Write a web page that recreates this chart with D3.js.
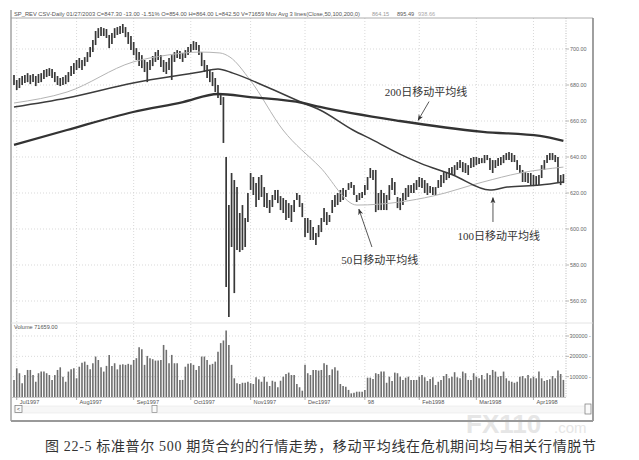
<!DOCTYPE html>
<html><head><meta charset="utf-8">
<script src="https://cdn.jsdelivr.net/npm/d3@7/dist/d3.min.js"></script>
<style>body{margin:0;background:#fff}svg{display:block}</style>
</head><body>
<svg id="c" width="639" height="460"></svg>
<script>
// ---- data ----
const highs = [685.5,682.8,683.9,685,685.5,686.6,685.5,686.1,685,686.1,
686.6,688.3,688.9,689.4,688.9,687.2,685,683.9,684.4,685.5,
687.2,690.5,692.2,693.9,695,693.9,695.5,698.3,701.1,705,
710,711.6,712.2,711.6,711.1,707.8,708.9,711.6,712.2,712.8,
713.9,712.2,709.4,707.2,703.9,700.5,698.3,696.6,693.9,692.8,
693.9,696.1,698.3,699.4,696.6,693.9,692.8,695,696.6,698.3,
699.4,698.9,697.8,699.4,701.1,702.8,704.4,703.9,702.2,698.3,
693.9,691.1,688.3,687.2,683.9,680,674.4,673.3,640,613.3,
631.1,627.2,623.3,608.9,613.3,606.1,620,631.1,628.9,625.5,
628.9,630,623.3,620,616.1,618.9,621.7,621.7,618.3,617.2,
616.1,614.4,613.3,616.1,620,618.9,614.4,606.1,606.1,605,
601.1,597.8,602.2,606.1,611.6,609.4,607.8,616.1,618.9,620,
621.7,622.8,621.7,625.5,626.1,624.4,618.9,620,620.5,624.4,
628.9,633.9,632.8,632.8,620,621.7,620,618.9,624.4,628.3,
626.1,617.8,617.2,620,622.8,624.4,624.4,625.5,627.2,628.9,
628.3,627.2,625.5,623.9,623.3,623.3,627.2,630,631.6,631.6,
633.9,634.4,635.5,637.2,638.3,637.2,636.6,635.5,639.4,640,
640,639.4,639.4,641.1,641.1,639.4,638.3,638.3,639.4,640,
641.1,642.2,642.8,642.2,641.1,638.3,635.5,632.8,631.6,631.1,
631.1,630,629.4,630,635.5,638.3,641.1,642.2,642.2,641.1,
640,630,630.5];
const lows = [680,677.2,678.3,680,681.1,681.6,680.5,681.6,679.4,681.1,
681.6,683.3,684.4,685,683.9,681.6,680,679.4,680,680.5,
681.6,685,686.1,688.3,689.4,688.3,690.5,692.8,695.5,698.3,
702.2,706.1,707.2,707.2,706.1,700.5,702.8,706.1,707.8,708.3,
708.9,706.6,702.8,699.4,696.6,693.9,690.5,689.4,687.2,681.6,
688.3,690.5,692.8,693.9,690,687.2,686.1,688.3,682.8,692.8,
695,694.4,692.8,695,696.6,698.3,699.4,699.4,696.6,690.5,
687.2,683.9,681.6,679.4,676.1,672.8,668.9,647.8,567.8,551.1,
590,564.4,588.3,587.2,588.3,590,603.9,621.7,618.9,612.2,
616.1,617.8,612.2,611.6,608.9,612.2,616.1,614.4,610.5,608.9,
605,606.1,603.9,609.4,616.1,612.2,606.6,595.5,597.8,593.9,
593.9,591.1,595.5,598.3,603.9,602.2,603.9,608.9,612.2,613.3,
615,616.1,617.8,621.7,622.8,618.9,615,616.1,617.2,618.9,
621.7,628.3,627.2,609.4,610.5,610.5,610.5,610.5,616.1,621.7,
618.9,611.6,610.5,613.3,616.1,617.8,620,620,621.7,623.3,
622.8,620,618.9,620,618.9,618.9,622.8,623.3,625.5,627.2,
628.3,630,630,632.8,633.9,631.6,631.1,630,633.9,634.4,
635.5,636.1,636.6,636.6,638.3,632.8,631.1,633.9,635,635.5,
636.6,638.3,638.3,637.2,637.2,632.8,631.1,626.1,626.1,625.5,
624.4,624.4,624.4,624.4,628.3,632.8,636.6,638.3,638.3,637.2,
625.5,624.4,625.5];
const volumesK = [84,141,117,68,108,133,133,108,75,117,
125,125,117,108,84,108,133,146,100,75,
125,136,141,92,149,169,174,158,136,166,
199,182,146,125,153,207,153,166,136,158,
161,158,163,158,182,191,245,235,158,202,
191,186,179,179,182,256,232,166,207,166,
166,84,84,149,163,166,158,133,153,199,
199,182,158,163,174,223,265,278,327,256,
158,92,68,64,70,70,75,68,64,97,
87,75,100,75,54,80,75,48,80,100,
113,120,108,108,64,48,31,158,117,108,
133,133,130,133,166,158,108,136,146,130,
64,54,51,35,18,21,26,26,26,35,
95,95,89,117,113,125,125,70,100,79,
120,117,100,84,95,100,84,84,84,100,
108,97,79,89,97,59,75,84,103,113,
92,100,122,97,92,125,117,84,84,117,
100,92,108,87,117,108,133,125,100,103,
125,92,80,75,70,75,100,103,92,108,
92,100,92,125,92,79,84,87,103,92,
130,113,84];
// moving averages: [bar index, value]
const ma50 = [[0,670],[19.5,676.1],[43.8,692.8],[56.3,696.6],[68.4,698.3],[75.7,697.8],[79.4,695.5],[86.8,682.8],[98.9,655],[112.5,634.4],[126.1,613.3],[141.9,615],[154,618.3],[172.4,626.1],[186,631.1],[202,634.4]];
const ma100 = [[0,667.8],[19.5,672.8],[43.8,681.1],[68.4,687.2],[75,688.9],[80.5,686.6],[93,678.9],[106.3,670],[112.5,666.1],[124.6,655],[132,649.4],[141.9,641.6],[149.3,636.6],[161.4,630],[175,621.7],[181.3,623.3],[193.4,624.4],[202,626.1]];
const ma200 = [[0,646.7],[19.5,655],[43.8,665],[62.1,670.5],[75,675],[86.8,673.3],[106.3,670],[112.5,667.8],[141.9,660],[172.4,654],[193.4,651.7],[202,649]];
const priceTicks = [560,580,600,620,640,660,680,700];
const volTicks = [100000,200000,300000];
const monthLabels = ["Jul1997","Aug1997","Sep1997","Oct1997","Nov1997","Dec1997","98","Feb1998","Mar1998","Apr1998"];
const monthIdx = [1,23,44,65,87,107,129,149,170,191];
const headerText = "SP_REV CSV-Daily   01/27/2003   C=847.30  -13.00  -1.51%   O=854.00   H=864.00   L=842.50   V=71659   Mov Avg 3 lines(Close,50,100,200,0)";
const headerMA = ["864.15","895.49","938.66"];
const caption = "图 22-5   标准普尔 500 期货合约的行情走势，移动平均线在危机期间均与相关行情脱节";
const notes = [
  {text:"200日移动平均线", tx:151.5, tp:676.2, from:[152.6,670.8], to:[148.6,660.4]},
  {text:"50日移动平均线", tx:134.5, tp:582.6, from:[131.6,590], to:[126.8,611]},
  {text:"100日移动平均线", tx:178.2, tp:596, from:[176.1,603.9], to:[176.1,617.4]}
];

// ---- drawing ----
const svg = d3.select("#c");
const x = d3.scaleLinear().domain([0,202]).range([14,563.4]);
const y = d3.scaleLinear().domain([560,700]).range([301,49]);
const yv = d3.scaleLinear().domain([0,300000]).range([397,336]);
const L = 11, R = 593, T = 18, PB = 323, VB = 397, AX = 566;
const sans = "'Liberation Sans', Arial, sans-serif";

svg.append("rect").attr("width",639).attr("height",460).attr("fill","#fff");
const defs = svg.append("defs");
defs.append("marker").attr("id","ah").attr("viewBox","0 0 10 10").attr("refX",9).attr("refY",5)
  .attr("markerWidth",7).attr("markerHeight",7).attr("orient","auto-start-reverse")
  .append("path").attr("d","M0,1 L10,5 L0,9 L3,5 Z").attr("fill","#333");
defs.append("clipPath").attr("id","pc").append("rect").attr("x",L).attr("y",T).attr("width",AX-L).attr("height",PB-T);

// watermark (behind the chart texts)
svg.append("text").attr("x",466).attr("y",433).attr("font-family",sans).attr("font-weight","bold")
  .attr("font-size",26).attr("fill","#e6e6e6").text("FX110");
svg.append("text").attr("x",554).attr("y",433).attr("font-family",sans)
  .attr("font-size",15).attr("fill","#e6e6e6").text(".com");

// grid
const grid = svg.append("g").attr("stroke","#cfcfcf").attr("stroke-dasharray","1,2").attr("stroke-width",0.8);
priceTicks.forEach(p=>grid.append("line").attr("x1",L+2).attr("x2",AX).attr("y1",y(p)).attr("y2",y(p)));
volTicks.forEach(v=>grid.append("line").attr("x1",L+2).attr("x2",AX).attr("y1",yv(v)).attr("y2",yv(v)));
monthIdx.forEach(i=>grid.append("line").attr("x1",x(i)).attr("x2",x(i)).attr("y1",T).attr("y2",VB));

// frame
const fr = svg.append("g").attr("fill","none");
fr.append("line").attr("x1",L).attr("x2",L).attr("y1",10).attr("y2",421).attr("stroke","#777").attr("stroke-width",1);
fr.append("line").attr("x1",L).attr("x2",R).attr("y1",T).attr("y2",T).attr("stroke","#999").attr("stroke-width",0.8);
fr.append("line").attr("x1",R).attr("x2",R).attr("y1",T).attr("y2",421).attr("stroke","#888").attr("stroke-width",1.6);
fr.append("line").attr("x1",L).attr("x2",R).attr("y1",421).attr("y2",421).attr("stroke","#999").attr("stroke-width",2);
fr.append("line").attr("x1",L).attr("x2",R).attr("y1",PB).attr("y2",PB).attr("stroke","#ddd").attr("stroke-width",0.8);
fr.append("line").attr("x1",L).attr("x2",AX).attr("y1",VB+0.5).attr("y2",VB+0.5).attr("stroke","#bbb").attr("stroke-width",0.8);
fr.append("line").attr("x1",AX).attr("x2",AX).attr("y1",T).attr("y2",VB).attr("stroke","#aaa").attr("stroke-dasharray","1,1.5").attr("stroke-width",0.8);

// header
svg.append("text").attr("x",14).attr("y",15.5).attr("font-family",sans).attr("font-size",5.6)
  .attr("fill","#555").attr("textLength",346).attr("lengthAdjust","spacingAndGlyphs").text(headerText);
const hcol = ["#999","#555","#aaa"], hx=[372,397,418];
headerMA.forEach((t,k)=>svg.append("text").attr("x",hx[k]).attr("y",15.5).attr("font-family",sans)
  .attr("font-size",5.6).attr("fill",hcol[k]).text(t));

// price axis labels
const ya = svg.append("g").attr("font-family",sans).attr("font-size",5.4).attr("fill","#666");
priceTicks.forEach(p=>{
  ya.append("line").attr("x1",AX).attr("x2",AX+3).attr("y1",y(p)).attr("y2",y(p)).attr("stroke","#999").attr("stroke-width",0.7);
  ya.append("text").attr("x",AX+4).attr("y",y(p)+2).text(d3.format(".2f")(p));
});
volTicks.forEach(v=>{
  ya.append("line").attr("x1",AX).attr("x2",AX+3).attr("y1",yv(v)).attr("y2",yv(v)).attr("stroke","#999").attr("stroke-width",0.7);
  ya.append("text").attr("x",AX+3.5).attr("y",yv(v)+2).text(v+" -");
});

// price bars
const pg = svg.append("g").attr("clip-path","url(#pc)");
pg.selectAll("line.bar").data(highs).join("line").attr("class","bar")
  .attr("x1",(d,i)=>x(i)).attr("x2",(d,i)=>x(i))
  .attr("y1",d=>y(d)).attr("y2",(d,i)=>Math.max(y(lows[i]),y(d)+2))
  .attr("stroke","#383838").attr("stroke-width",1.7);

// moving averages
const ln = d3.line().x(d=>x(d[0])).y(d=>y(d[1])).curve(d3.curveMonotoneX);
pg.append("path").attr("d",ln(ma50)).attr("fill","none").attr("stroke","#b4b4b4").attr("stroke-width",1);
pg.append("path").attr("d",ln(ma100)).attr("fill","none").attr("stroke","#3c3c3c").attr("stroke-width",1.5);
pg.append("path").attr("d",ln(ma200)).attr("fill","none").attr("stroke","#333").attr("stroke-width",2.3);

// annotations
const serif = "'Liberation Serif','Noto Sans CJK SC',serif";
notes.forEach(n=>{
  svg.append("text").attr("x",x(n.tx)).attr("y",y(n.tp)+4).attr("text-anchor","middle")
    .attr("font-family",serif).attr("font-size",11).attr("fill","#333").text(n.text);
  svg.append("line").attr("x1",x(n.from[0])).attr("y1",y(n.from[1])).attr("x2",x(n.to[0])).attr("y2",y(n.to[1]))
    .attr("stroke","#444").attr("stroke-width",0.9).attr("marker-end","url(#ah)");
});

// volume
svg.append("text").attr("x",14).attr("y",329).attr("font-family",sans).attr("font-size",5.6).attr("fill","#555").text("Volume   71659.00");
svg.append("g").selectAll("line").data(volumesK).join("line")
  .attr("x1",(d,i)=>x(i)).attr("x2",(d,i)=>x(i)).attr("y1",d=>yv(d*1000)).attr("y2",VB)
  .attr("stroke","#6e6e6e").attr("stroke-width",1.6);

// x axis
const xa = svg.append("g").attr("font-family",sans).attr("font-size",5.6).attr("fill","#555");
monthIdx.forEach((i,k)=>{
  xa.append("line").attr("x1",x(i)).attr("x2",x(i)).attr("y1",VB).attr("y2",VB+3).attr("stroke","#888").attr("stroke-width",0.7);
  xa.append("text").attr("x",x(i)+3).attr("y",VB+6.5).text(monthLabels[k]);
});
// scrollbar row
const sb = svg.append("g");
sb.append("rect").attr("x",14).attr("y",406).attr("width",572).attr("height",7).attr("fill","#f1f1f1").attr("fill-opacity",0.6).attr("stroke","#e2e2e2").attr("stroke-width",0.5);
sb.append("rect").attr("x",15).attr("y",405.5).attr("width",7).attr("height",7).attr("fill","#fafafa").attr("stroke","#777").attr("stroke-width",0.7);
sb.append("text").attr("x",17).attr("y",411).attr("font-family",sans).attr("font-size",5).attr("fill","#333").text("<");
sb.append("rect").attr("x",152).attr("y",405.5).attr("width",5).attr("height",7).attr("fill","#fafafa").attr("stroke","#888").attr("stroke-width",0.7);
sb.append("rect").attr("x",585).attr("y",404).attr("width",6).attr("height",10).attr("fill","#fafafa").attr("stroke","#777").attr("stroke-width",0.7);

// caption
svg.append("text").attr("x",45).attr("y",451).attr("font-family",serif).attr("font-size",14)
  .attr("fill","#333").attr("textLength",551).attr("lengthAdjust","spacing").text(caption);
</script>
</body></html>
